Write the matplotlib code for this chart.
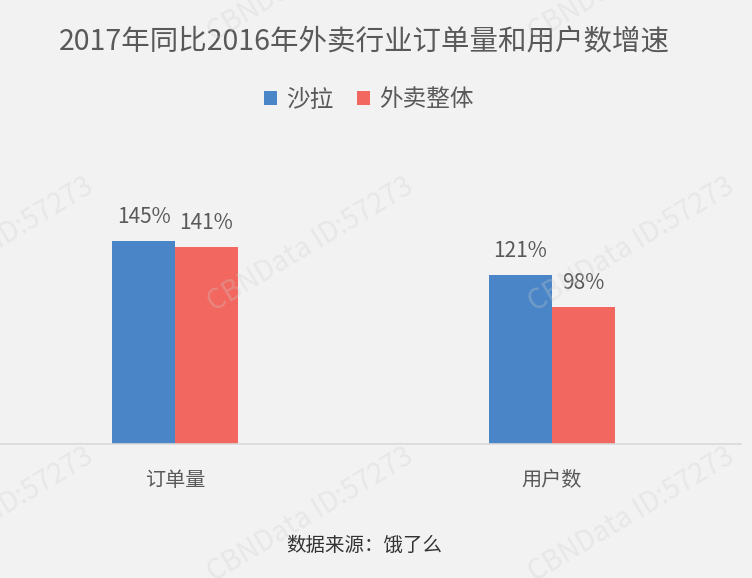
import matplotlib
matplotlib.use("Agg")
import numpy as np
import matplotlib.pyplot as plt
from matplotlib.patches import Patch

plt.rcParams['font.family'] = ['Noto Sans CJK SC', 'DejaVu Sans']
plt.rcParams['font.weight'] = 'light'

title = "2017年同比2016年外卖行业订单量和用户数增速"
categories = ["订单量", "用户数"]
series_names = ["沙拉", "外卖整体"]
salad = [145, 121]
overall = [141, 98]
source = "数据来源：饿了么"

blue = "#4a86c7"
red = "#f2675f"
bg = "#f3f2f2"
text_gray = "#595959"

fig = plt.figure(figsize=(7.52, 5.78), dpi=100, facecolor=bg)
W, H = 752, 578

# axes: baseline at y=444px, spans x 0..741px
ax = fig.add_axes([0, 1 - 444 / H, 741 / W, 224 / H])
ax.set_facecolor("none")

x = np.arange(len(categories))
bw = 0.167
# category centres at 175px and 552px
ax.set_xlim(-175 / 377, (741 - 175) / 377)
ax.set_ylim(0, 160)

b1 = ax.bar(x - bw / 2, salad, bw, color=blue, zorder=2)
b2 = ax.bar(x + bw / 2, overall, bw, color=red, zorder=2)

for bars, vals in ((b1, salad), (b2, overall)):
    for rect, v in zip(bars, vals):
        ax.annotate(f"{v}%", (rect.get_x() + rect.get_width() / 2, rect.get_height()),
                    xytext=(0, 17), textcoords="offset points",
                    ha="center", va="center", fontsize=15, color=text_gray)

for s in ("top", "left", "right"):
    ax.spines[s].set_visible(False)
ax.spines["bottom"].set_color("#d9d9d9")
ax.spines["bottom"].set_linewidth(1.2)
ax.set_yticks([])
ax.set_xticks(x)
ax.set_xticklabels(categories, fontsize=14.5, color=text_gray)
ax.tick_params(axis="x", length=0, pad=19)

fig.text(364 / W, 1 - 42 / H, title, ha="center", va="center",
         fontsize=20.5, color=text_gray)

handles = [Patch(facecolor=blue), Patch(facecolor=red)]
fig.legend(handles, series_names, loc="center", bbox_to_anchor=(369 / W, 1 - 100 / H),
           ncol=2, frameon=False, fontsize=17, labelcolor=text_gray,
           handlelength=0.55, handleheight=0.55, handletextpad=0.4, columnspacing=1.0)

fig.text(364 / W, 1 - 545 / H, source, ha="center", va="center",
         fontsize=14, color="#333333")

# watermark grid
for cx in (-10, 310, 631):
    for cy in (-25, 245, 515):
        fig.text(cx / W, 1 - cy / H, "CBNData ID:57273", ha="center", va="center",
                 rotation=31, rotation_mode="anchor", fontsize=20,
                 color="#cfcdcd", alpha=0.3, zorder=10)

fig.savefig("out.png", dpi=100, facecolor=bg)
